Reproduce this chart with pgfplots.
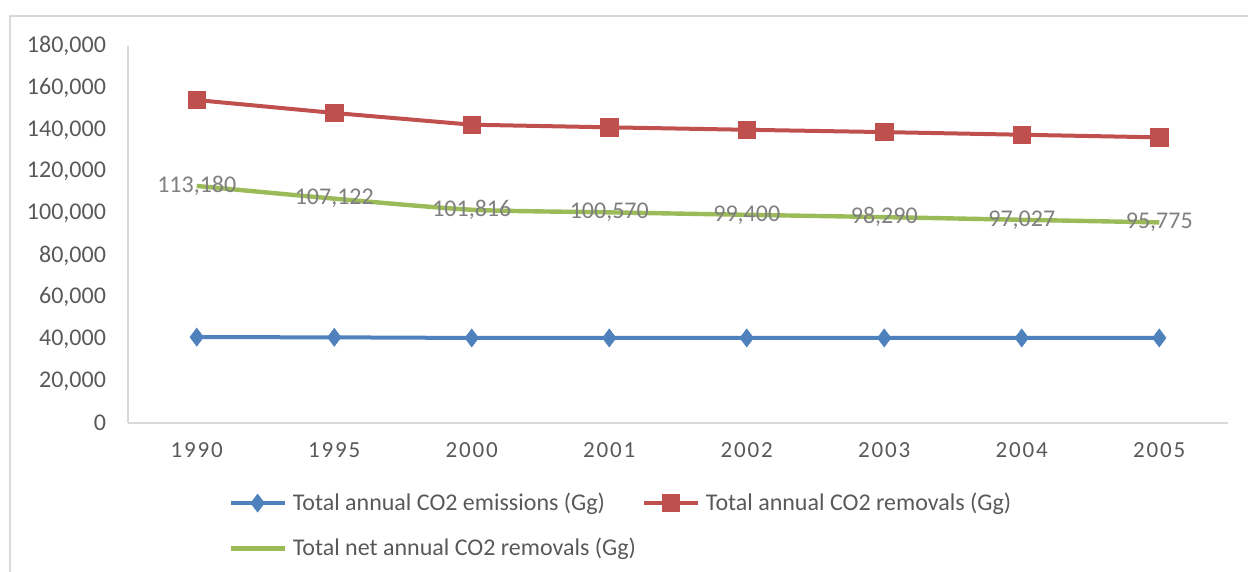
\documentclass[border=0pt]{standalone}
\usepackage{fontspec}
\setmainfont{Carlito}
\newfontfamily\spaced{Carlito}[LetterSpace=8]
\usepackage{pgfplots}
\pgfplotsset{compat=1.18}
\usepackage{pgfplotstable}
\definecolor{cblue}{HTML}{4F81BD}
\definecolor{cred}{HTML}{C0504D}
\definecolor{cgreen}{HTML}{9BBB59}
\definecolor{tick}{HTML}{595959}
\definecolor{lab}{HTML}{7F7F7F}
\definecolor{frame}{HTML}{D9D9D9}
\pgfplotstableread{
x emis remov net
0 41000 154180 113180
1 40900 148022 107122
2 40600 142416 101816
3 40600 141170 100570
4 40600 140000 99400
5 40600 138890 98290
6 40600 137627 97027
7 40600 136375 95775
}\data
\begin{document}
\begin{tikzpicture}
\useasboundingbox (0,0) rectangle (624pt,286pt);
\draw[frame, line width=0.6pt] (5pt,-2pt) -- (5pt,278pt) -- (626pt,278pt);
\begin{axis}[
  at={(64pt,74.5pt)}, anchor=south west,
  scale only axis, width=550pt, height=188.5pt,
  xmin=-0.5, xmax=7.5, ymin=0, ymax=180000,
  xtick={0,...,7},
  xticklabels={1990,1995,2000,2001,2002,2003,2004,2005},
  ytick={0,20000,...,180000},
  scaled y ticks=false,
  axis x line*=bottom, axis y line*=left,
  axis line style={frame, line width=0.8pt, -},
  major tick length=0pt,
  /pgf/number format/assume math mode=true,
  yticklabel style={/pgf/number format/fixed, /pgf/number format/precision=0, /pgf/number format/1000 sep={,}, xshift=-7.5pt},
  tick label style={font=\fontsize{12}{14}\selectfont, text=tick},
  xticklabel style={font=\spaced\fontsize{11.5}{14}\selectfont, yshift=-6.5pt},
  legend columns=2,
  legend cell align=left,
  legend style={draw=none, fill=none, font=\fontsize{12}{14}\selectfont, text=tick,
    at={(0.0855,-0.163)}, anchor=north west, row sep=8.5pt,
    /tikz/every odd column/.append style={column sep=1pt},
    /tikz/every even column/.append style={column sep=1pt}},
  legend image code/.code={\draw[mark repeat=2,mark phase=2,#1] plot coordinates {(0pt,0pt) (13.5pt,0pt) (27pt,0pt)};},
]
\addplot[cblue, line width=2pt, mark=diamond*, mark size=4.5pt, mark options={solid, line width=0.3pt}] table[x=x,y=emis]{\data};
\addlegendentry{Total annual CO2 emissions (Gg)}
\addplot[cred, line width=2pt, mark=square*, mark size=4.3pt, mark options={line width=0.3pt}] table[x=x,y=remov]{\data};
\addlegendentry{Total annual CO2 removals (Gg)}
\addplot[cgreen, line width=2.2pt, smooth, tension=0.4,
  point meta=y,
  nodes near coords={\pgfmathprintnumber[fixed,precision=0,1000 sep={,}]{\pgfplotspointmeta}},
  every node near coord/.append style={anchor=center, text=lab, font=\fontsize{12}{14}\selectfont, /pgf/number format/assume math mode=true}]
  table[x=x,y=net]{\data};
\addlegendentry{Total net annual CO2 removals (Gg)}
\end{axis}
\end{tikzpicture}
\end{document}
